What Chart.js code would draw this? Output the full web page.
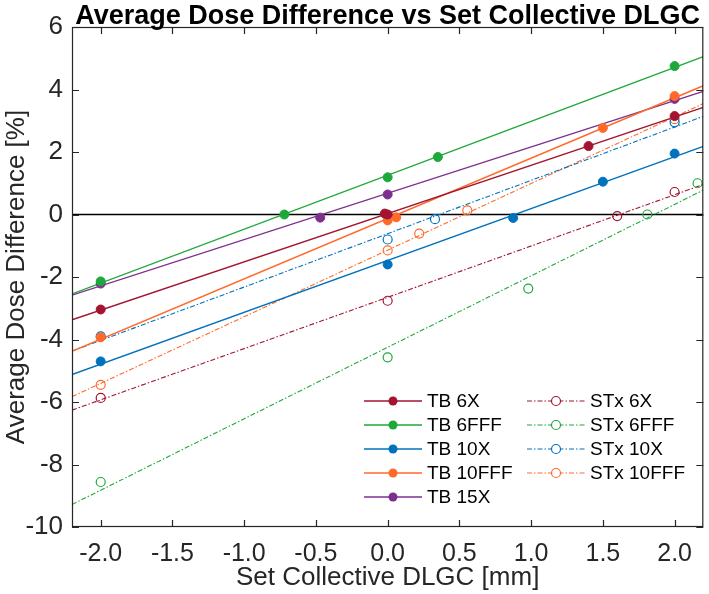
<!DOCTYPE html>
<html>
<head>
<meta charset="utf-8">
<script src="https://cdn.jsdelivr.net/npm/chart.js@4.4.0/dist/chart.umd.min.js"></script>
<style>
  html, body { margin: 0; padding: 0; background: #fff; }
  #wrap { width: 709px; height: 594px; }
</style>
</head>
<body>
<div id="wrap"><canvas id="doseChart" width="709" height="594"></canvas></div>
<script>
const seriesNames = ['TB 6X', 'TB 6FFF', 'TB 10X', 'TB 10FFF', 'TB 15X', 'STx 6X', 'STx 6FFF', 'STx 10X', 'STx 10FFF'];

const tb6xX = [-2.0, -0.02, 0.0, 1.4, 2.0];
const tb6xY = [-3.04, 0.03, 0.0, 2.19, 3.15];
const tb6fffX = [-2.0, -0.72, 0.0, 0.35, 2.0];
const tb6fffY = [-2.14, 0.0, 1.19, 1.84, 4.75];
const tb10xX = [-2.0, 0.0, 0.875, 1.5, 2.0];
const tb10xY = [-4.70, -1.60, -0.11, 1.05, 1.95];
const tb10fffX = [-2.0, 0.0, 0.06, 1.5, 2.0];
const tb10fffY = [-3.93, -0.19, -0.09, 2.77, 3.79];
const tb15xX = [-2.0, -0.47, 0.0, 2.0];
const tb15xY = [-2.21, -0.10, 0.64, 3.70];
const stx6xX = [-2.0, 0.0, 1.6, 2.0];
const stx6xY = [-5.87, -2.76, -0.05, 0.72];
const stx6fffX = [-2.0, 0.0, 0.98, 1.81, 2.16];
const stx6fffY = [-8.56, -4.57, -2.37, 0.0, 1.0];
const stx10xX = [-2.0, 0.0, 0.33, 2.0];
const stx10xY = [-3.90, -0.80, -0.15, 2.95];
const stx10fffX = [-2.0, 0.0, 0.22, 0.555, 2.0];
const stx10fffY = [-5.45, -1.15, -0.61, 0.13, 3.05];

// fitted lines: value at each end of the x range
const fitX = [-2.2, 2.2];
const fitLeft = [-3.37, -2.54, -5.12, -4.38, -2.58, -6.26, -9.28, -4.37, -5.83];
const fitRight = [3.43, 5.05, 2.18, 4.12, 3.94, 0.96, 0.78, 3.14, 3.55];

const xTicks = [-2.0, -1.5, -1.0, -0.5, 0.0, 0.5, 1.0, 1.5, 2.0];
const yTicks = [-10, -8, -6, -4, -2, 0, 2, 4, 6];

const allX = [tb6xX, tb6fffX, tb10xX, tb10fffX, tb15xX, stx6xX, stx6fffX, stx10xX, stx10fffX];
const allY = [tb6xY, tb6fffY, tb10xY, tb10fffY, tb15xY, stx6xY, stx6fffY, stx10xY, stx10fffY];

const colors = ['#A2142F', '#1EA83A', '#0072BD', '#FF6A2A', '#7E2F8E', '#A2142F', '#1EA83A', '#0072BD', '#FF6A2A'];
const FONT = '"Liberation Sans", Arial, Helvetica, sans-serif';
const dashDot = [5, 2, 1.5, 2];

function isOpen(i) { return seriesNames[i].indexOf('STx') === 0 }

var datasets = []
// markers first so they are drawn on top of the fit lines
seriesNames.forEach((name, i) => {
	datasets.push({
		label: name,
		data: allX[i].map((x, k) => ({x: x, y: allY[i][k]})),
		showLine: false,
		pointRadius: 4.5,
		pointHoverRadius: 4.5,
		pointBackgroundColor: isOpen(i) ? 'rgba(255,255,255,0)' : colors[i],
		pointBorderColor: colors[i],
		pointBorderWidth: isOpen(i) ? 1.2 : 1
	})
})
seriesNames.forEach((name, i) => {
	datasets.push({
		label: name + ' fit',
		data: [{x: fitX[0], y: fitLeft[i]}, {x: fitX[1], y: fitRight[i]}],
		showLine: true,
		pointRadius: 0,
		borderColor: colors[i],
		borderWidth: isOpen(i) ? 1.1 : 1.4,
		borderDash: isOpen(i) ? dashDot : []
	})
})

const frame = {
	id: 'frame',
	beforeDatasetsDraw(chart) {
		const {ctx, chartArea: a, scales: {y}} = chart;
		const y0 = y.getPixelForValue(0);
		ctx.save();
		ctx.strokeStyle = '#000';
		ctx.lineWidth = 1.5;
		ctx.beginPath();
		ctx.moveTo(a.left, y0);
		ctx.lineTo(a.right, y0);
		ctx.stroke();
		ctx.restore();
	},
	afterDraw(chart) {
		const {ctx, chartArea: a, scales: {x, y}} = chart;
		ctx.save();
		// box + inward ticks
		ctx.strokeStyle = '#262626';
		ctx.lineWidth = 1.2;
		ctx.strokeRect(a.left + 0.5, a.top + 0.5, a.right - a.left - 1, a.bottom - a.top - 1);
		ctx.beginPath();
		xTicks.forEach(v => {
			const px = Math.round(x.getPixelForValue(v)) + 0.5;
			ctx.moveTo(px, a.bottom); ctx.lineTo(px, a.bottom - 7);
			ctx.moveTo(px, a.top); ctx.lineTo(px, a.top + 7);
		})
		yTicks.forEach(v => {
			const py = Math.round(y.getPixelForValue(v)) + 0.5;
			ctx.moveTo(a.left, py); ctx.lineTo(a.left + 7, py);
			ctx.moveTo(a.right, py); ctx.lineTo(a.right - 7, py);
		})
		ctx.stroke();

		// title
		ctx.fillStyle = '#000';
		ctx.font = 'bold 27px ' + FONT;
		ctx.textAlign = 'center';
		ctx.textBaseline = 'alphabetic';
		ctx.fillText('Average Dose Difference vs Set Collective DLGC', (a.left + a.right) / 2, 24);

		// legend, two columns
		ctx.font = '19px ' + FONT;
		ctx.textAlign = 'left';
		ctx.textBaseline = 'middle';
		seriesNames.forEach((name, i) => {
			const col = isOpen(i) ? 1 : 0;
			const row = isOpen(i) ? i - 5 : i;
			const lx = col ? 527 : 364;
			const ly = 401 + row * 24;
			ctx.strokeStyle = colors[i];
			ctx.lineWidth = isOpen(i) ? 1.1 : 1.4;
			ctx.setLineDash(isOpen(i) ? dashDot : []);
			ctx.beginPath();
			ctx.moveTo(lx, ly); ctx.lineTo(lx + 58, ly);
			ctx.stroke();
			ctx.setLineDash([]);
			ctx.beginPath();
			ctx.arc(lx + 29, ly, 4.5, 0, Math.PI * 2);
			if (!isOpen(i)) {
				ctx.fillStyle = colors[i];
				ctx.fill();
			} else {
				ctx.fillStyle = '#fff';
				ctx.fill();
				ctx.lineWidth = 1.2;
				ctx.stroke();
			}
			ctx.fillStyle = '#000';
			ctx.fillText(name, lx + 63, ly + 1);
		})
		ctx.restore();
	}
};

new Chart(document.getElementById('doseChart').getContext('2d'), {
	type: 'scatter',
	data: {datasets: datasets},
	options: {
		responsive: false,
		devicePixelRatio: 1,
		animation: false,
		layout: {padding: {top: 27, right: 2, left: 0, bottom: 0}},
		plugins: {
			legend: {display: false},
			tooltip: {enabled: false},
			title: {display: false}
		},
		scales: {
			x: {
				type: 'linear',
				position: 'bottom',
				min: -2.2,
				max: 2.2,
				afterBuildTicks: s => { s.ticks = xTicks.map(v => ({value: v})) },
				afterFit: s => { s.height = 67 },
				grid: {display: false, drawTicks: false},
				border: {display: false},
				ticks: {
					callback: v => v.toFixed(1),
					font: {family: FONT, size: 25},
					color: '#262626',
					padding: 12,
					maxRotation: 0,
					autoSkip: false
				},
				title: {
					display: true,
					text: 'Set Collective DLGC [mm]',
					font: {family: FONT, size: 26, lineHeight: 1},
					color: '#262626',
					padding: {top: 0, bottom: 3}
				}
			},
			y: {
				type: 'linear',
				min: -10,
				max: 6,
				afterBuildTicks: s => { s.ticks = yTicks.map(v => ({value: v})) },
				afterFit: s => { s.width = 72 },
				grid: {display: false, drawTicks: false},
				border: {display: false},
				ticks: {
					callback: v => String(v),
					font: {family: FONT, size: 26},
					color: '#262626',
					padding: 9,
					autoSkip: false
				},
				title: {
					display: true,
					text: 'Average Dose Difference [%]',
					font: {family: FONT, size: 26},
					color: '#262626',
					padding: {top: 1, bottom: 0}
				}
			}
		}
	},
	plugins: [frame]
});
</script>
</body>
</html>
